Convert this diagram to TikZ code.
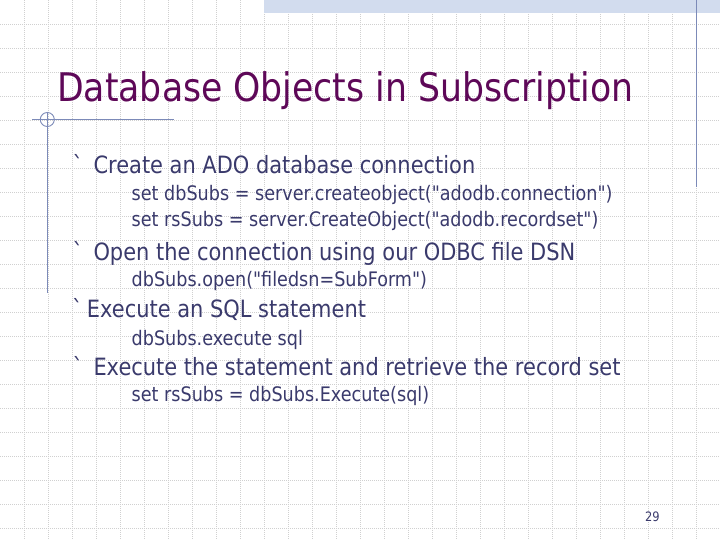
\documentclass[tikz,border=0pt]{standalone}
\usepackage{fontspec}
\newfontfamily\slidefont{DejaVu Sans}[FakeStretch=0.88]
\definecolor{titlepurple}{RGB}{94,8,88}
\definecolor{bodyblue}{RGB}{58,58,108}
\definecolor{rulerblue}{RGB}{124,138,184}
\definecolor{bandblue}{RGB}{210,220,238}
\definecolor{gridgray}{RGB}{208,208,208}
\begin{document}
\begin{tikzpicture}[x=1pt,y=-1pt,
    every node/.style={inner sep=0pt,anchor=base west},
    titletext/.style={text=titlepurple,font=\slidefont\fontsize{39.4}{40}\selectfont},
    bullettext/.style={text=bodyblue,font=\slidefont\fontsize{23.8}{24}\selectfont},
    codetext/.style={text=bodyblue,font=\slidefont\fontsize{20}{20}\selectfont},
    pagetext/.style={text=bodyblue,font=\slidefont\fontsize{13}{14}\selectfont},
    gridline/.style={gridgray,line width=0.7pt,dash pattern=on 0.7pt off 1.3pt},
    ruler/.style={rulerblue,line width=1.2pt}]
  \useasboundingbox (0,0) rectangle (720,540);
  \fill[white] (0,0) rectangle (720,540);
  \foreach \gx in {1,...,29} \draw[gridline] (24*\gx+0.5,0) -- (24*\gx+0.5,540);
  \foreach \gy in {1,...,22} \draw[gridline] (0,24*\gy) -- (720,24*\gy);
  \fill[bandblue] (264,0) rectangle (720,13);
  \draw[ruler] (696.3,0) -- (696.3,187);
  \draw[ruler] (47.3,112) -- (47.3,293);
  \draw[ruler] (32,119.3) -- (174,119.3);
  \draw[ruler,line width=0.9pt] (47.3,119.5) circle[radius=7];
  \draw
    (57,102) node[titletext] (title) {Database Objects in Subscription}
    (72.5,174) node[bullettext] (markA) {`}
    (93.3,174) node[bullettext] (create) {Create an ADO database connection}
    (131.5,200.5) node[codetext] (dbobj) {set dbSubs = server.createobject("adodb.connection")}
    (131.5,226) node[codetext] (rsobj) {set rsSubs = server.CreateObject("adodb.recordset")}
    (72.5,260) node[bullettext] (markB) {`}
    (93.3,260) node[bullettext] (open) {Open the connection using our ODBC file DSN}
    (131.5,286.5) node[codetext] (dbopen) {dbSubs.open("filedsn=SubForm")}
    (72,317) node[bullettext] (markC) {`}
    (86.7,317) node[bullettext] (sql) {Execute an SQL statement}
    (131.5,345) node[codetext] (dbexec) {dbSubs.execute sql}
    (72.5,375) node[bullettext] (markD) {`}
    (93.3,375) node[bullettext] (fetch) {Execute the statement and retrieve the record set}
    (131.5,401.5) node[codetext] (rsexec) {set rsSubs = dbSubs.Execute(sql)}
    (645,521.5) node[pagetext] (page) {29};
\end{tikzpicture}
\end{document}
